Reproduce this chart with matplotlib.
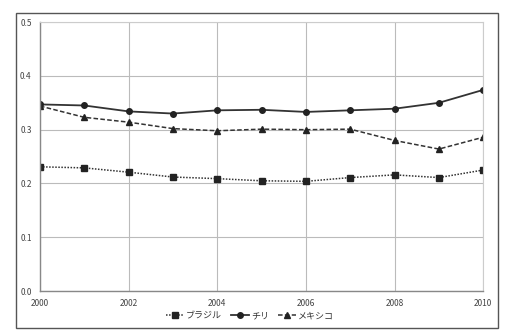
import matplotlib
matplotlib.use("Agg")
import matplotlib.pyplot as plt
from matplotlib.patches import Rectangle

plt.rcParams["font.family"] = ["Noto Sans CJK JP", "DejaVu Sans"]

years = [2000, 2001, 2002, 2003, 2004, 2005, 2006, 2007, 2008, 2009, 2010]
brazil = [0.231, 0.229, 0.221, 0.212, 0.209, 0.205, 0.204, 0.211, 0.216, 0.211, 0.225]
chile = [0.347, 0.345, 0.334, 0.330, 0.336, 0.337, 0.333, 0.336, 0.339, 0.350, 0.374]
mexico = [0.344, 0.323, 0.314, 0.302, 0.298, 0.301, 0.300, 0.301, 0.280, 0.264, 0.286]
labels = ["ブラジル", "チリ", "メキシコ"]

fig = plt.figure(figsize=(5.06, 3.30), dpi=100)
ax = fig.add_axes([0.079, 0.118, 0.876, 0.815])

# outer frame round the whole chart
fig.patches.append(Rectangle((0.032, 0.006), 0.952, 0.955, transform=fig.transFigure,
                             fill=False, edgecolor="#555555", linewidth=1.0))

ax.plot(years, brazil, color="#333333", linestyle=(0, (1, 1)), linewidth=1.1,
        marker="s", markersize=4, markerfacecolor="#222222", markeredgecolor="#222222",
        label=labels[0])
ax.plot(years, chile, color="#333333", linestyle="-", linewidth=1.3,
        marker="o", markersize=4, markerfacecolor="#222222", markeredgecolor="#222222",
        label=labels[1])
ax.plot(years, mexico, color="#333333", linestyle=(0, (3, 1.5)), linewidth=1.1,
        marker="^", markersize=4, markerfacecolor="#222222", markeredgecolor="#222222",
        label=labels[2])

ax.set_xlim(2000, 2010)
ax.set_ylim(0, 0.5)
ax.set_xticks(range(2000, 2011, 2))
ax.set_yticks([0.0, 0.1, 0.2, 0.3, 0.4, 0.5])
ax.set_yticklabels(["0.0", "0.1", "0.2", "0.3", "0.4", "0.5"])
ax.grid(True, color="#bbbbbb", linewidth=0.8)
ax.set_axisbelow(True)
ax.tick_params(length=0, labelsize=6, colors="#444444", pad=6)
for side in ["top", "right"]:
    ax.spines[side].set_color("#cccccc")
    ax.spines[side].set_linewidth(0.8)
for side in ["left", "bottom"]:
    ax.spines[side].set_color("#888888")
    ax.spines[side].set_linewidth(1.0)

fig.legend(loc="center", bbox_to_anchor=(0.494, 0.043), ncol=3, frameon=False,
           fontsize=6.5, handlelength=2.0, columnspacing=1.0, handletextpad=0.2,
           labelcolor="#333333")

fig.savefig("out.png", dpi=100)
